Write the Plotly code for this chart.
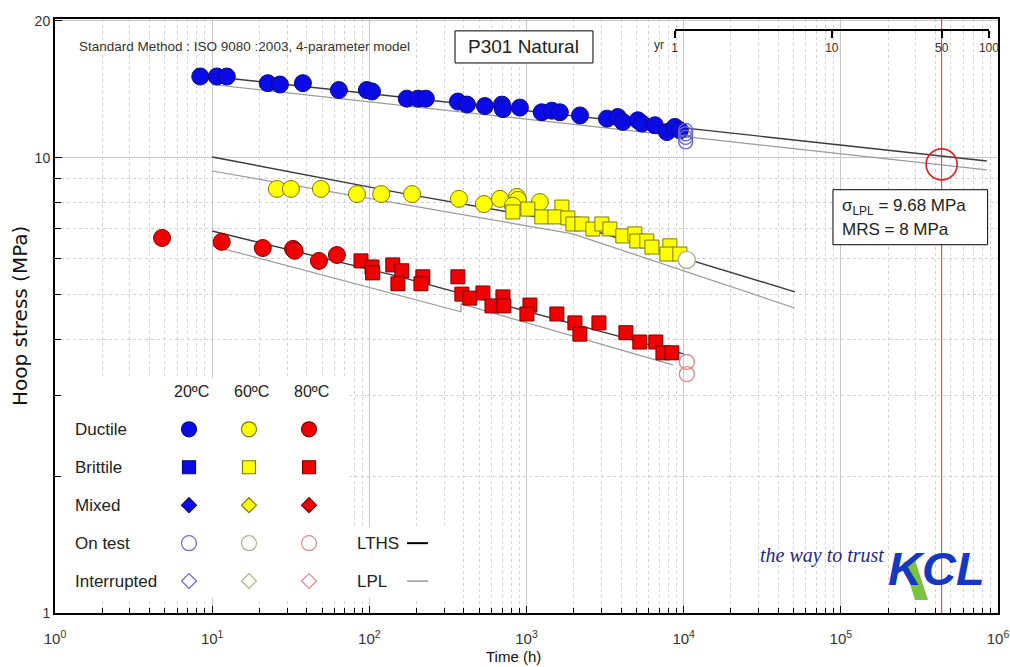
import math
import plotly.graph_objects as go

# ---------------- data ----------------
# 20 degC
blue_ductile_t = [8.4, 10.7, 12.4, 22.6, 27.0, 37.8, 64, 96.5, 104, 173, 204, 229, 366, 418, 544,
                  698, 708, 908, 1250, 1450, 1630, 2190, 3250, 3810, 4100, 5110, 5420, 6560, 7820, 8790, 9460]
blue_ductile_s = [15.1, 15.1, 15.1, 14.6, 14.5, 14.6, 14.1, 14.1, 14.0, 13.5, 13.5, 13.5, 13.3, 13.1, 13.0,
                  13.1, 12.8, 12.9, 12.6, 12.7, 12.6, 12.4, 12.2, 12.3, 12.0, 12.1, 11.9, 11.8, 11.4, 11.7, 11.5]
blue_ontest_t = [10300, 10300, 10300, 10300]
blue_ontest_s = [11.5, 11.3, 11.1, 10.85]

# 60 degC
yellow_ductile_t = [25.8, 31.7, 49.2, 83.4, 119, 187, 372, 536, 678, 869, 882, 819, 1217]
yellow_ductile_s = [8.55, 8.55, 8.55, 8.33, 8.33, 8.33, 8.13, 7.92, 8.13, 8.21, 8.09, 7.85, 8.00]
yellow_brittle_t = [819, 1020, 1680, 1253, 1517, 1833, 1973, 2250, 2644, 3017, 3393, 4102, 4890, 5035,
                    5830, 6280, 8170, 7820, 9460]
yellow_brittle_s = [7.61, 7.72, 7.80, 7.42, 7.42, 7.38, 7.16, 7.16, 6.98, 7.16, 6.98, 6.74, 6.81, 6.57,
                    6.57, 6.37, 6.41, 6.15, 6.15]
yellow_ontest_t = [10470]
yellow_ontest_s = [5.97]

# 80 degC
red_ductile_t = [4.8, 11.5, 21.0, 32.7, 33.5, 47.8, 62.2]
red_ductile_s = [6.67, 6.54, 6.34, 6.31, 6.25, 5.94, 6.12]
red_brittle_t = [88.5, 104, 105, 141, 161, 152, 219, 213, 366, 388, 436, 528, 603, 708, 718, 1052, 1006,
                 1560, 2032, 2187, 2890, 4290, 5260, 6650, 7380, 8410]
red_brittle_s = [5.94, 5.76, 5.59, 5.82, 5.65, 5.29, 5.48, 5.29, 5.48, 5.02, 4.92, 5.05, 4.73, 4.95, 4.73,
                 4.75, 4.54, 4.54, 4.34, 4.10, 4.34, 4.13, 3.94, 3.94, 3.73, 3.73]
red_ontest_t = [10470, 10470]
red_ontest_s = [3.56, 3.35]

# LTHS / LPL curves
blue_lths_t = [10, 849000]
blue_lths_s = [15.1, 9.85]
blue_lpl_t = [10, 849000]
blue_lpl_s = [14.5, 9.41]
yellow_lths_t = [10, 157, 1755, 50950]
yellow_lths_s = [10.05, 8.38, 7.23, 5.08]
yellow_lpl_t = [10, 1973, 50950]
yellow_lpl_s = [9.36, 6.81, 4.68]
red_lths_t = [10, 157, 10000]
red_lths_s = [6.91, 5.48, 3.71]
red_lpl_t = [10, 383, 383, 8540]
red_lpl_s = [6.41, 4.59, 4.78, 3.51]

HOURS_PER_YEAR = 8760
design_years = 50
design_t = design_years * HOURS_PER_YEAR
sigma_lpl = 9.68
mrs = 8

x_tick_vals = [1, 10, 100, 1000, 10000, 100000, 1000000]
x_tick_text = ["10<sup>0</sup>", "10<sup>1</sup>", "10<sup>2</sup>", "10<sup>3</sup>",
               "10<sup>4</sup>", "10<sup>5</sup>", "10<sup>6</sup>"]
x_minor_vals = [m * 10 ** k for k in range(6) for m in range(2, 10)]
y_tick_vals = [1, 10, 20]
y_tick_text = ["1", "10", "20"]
y_minor_vals = [2, 3, 4, 5, 6, 7, 8, 9]
yr_tick_vals = [1, 10, 50, 100]

legend_rows = ["Ductile", "Brittile", "Mixed", "On test", "Interrupted"]
legend_cols = ["20ºC", "60ºC", "80ºC"]

# ---------------- styles ----------------
FONT = "Liberation Sans"
BLUE, BLUE_E = "#0b0be8", "#0a0a7a"
YEL, YEL_E = "#ffff00", "#7a7a00"
RED, RED_E = "#f20000", "#780000"
OPEN = ["#6a6ac8", "#b0b08a", "#e08a8a"]
LTHS_C = "#3a3a3a"
LPL_C = "#9a9a9a"

fig = go.Figure()


def line(t, s, color, width=1.3):
    fig.add_trace(go.Scatter(x=t, y=s, mode="lines", line=dict(color=color, width=width),
                             hoverinfo="skip", showlegend=False))


def pts(t, s, symbol, size, color, edge, lw=1.0):
    fig.add_trace(go.Scatter(x=t, y=s, mode="markers",
                             marker=dict(symbol=symbol, size=size, color=color,
                                         line=dict(color=edge, width=lw)),
                             hoverinfo="skip", showlegend=False))


# design-life vertical line
fig.add_trace(go.Scatter(x=[design_t, design_t], y=[1, 20.2], mode="lines",
                         line=dict(color="#d03a3a", width=1), hoverinfo="skip", showlegend=False))

line(blue_lpl_t, blue_lpl_s, LPL_C, 1.2)
line(yellow_lpl_t, yellow_lpl_s, LPL_C, 1.2)
line(red_lpl_t, red_lpl_s, LPL_C, 1.2)
line(blue_lths_t, blue_lths_s, LTHS_C, 1.4)
line(yellow_lths_t, yellow_lths_s, LTHS_C, 1.4)
line(red_lths_t, red_lths_s, LTHS_C, 1.4)

pts(blue_ductile_t, blue_ductile_s, "circle", 17, BLUE, BLUE_E)
pts(blue_ontest_t, blue_ontest_s, "circle-open", 14, OPEN[0], OPEN[0], 1.4)
pts(yellow_ductile_t, yellow_ductile_s, "circle", 17, YEL, YEL_E)
pts(yellow_brittle_t, yellow_brittle_s, "square", 14, YEL, YEL_E)
pts(yellow_ontest_t, yellow_ontest_s, "circle", 17, "white", OPEN[1], 1.4)
pts(red_ductile_t, red_ductile_s, "circle", 17, RED, RED_E)
pts(red_brittle_t, red_brittle_s, "square", 14, RED, RED_E)
pts(red_ontest_t, red_ontest_s, "circle-open", 15, OPEN[2], OPEN[2], 1.4)

# design point circle
pts([design_t], [sigma_lpl], "circle-open", 31, "#dd2020", "#dd2020", 1.6)

# invisible anchor trace for the year axis
fig.add_trace(go.Scatter(x=[1, 100], y=[0.5, 0.5], xaxis="x2", yaxis="y4", mode="markers",
                         marker=dict(opacity=0), hoverinfo="skip", showlegend=False))

# ---------------- custom legend (overlay axes x3/y3, 0..1 = plot area) ----------------
col_x = [0.1421, 0.2057, 0.2694]
row_y = [0.3092, 0.2454, 0.1815, 0.1176, 0.0538]
fills = [(BLUE, BLUE_E), (YEL, YEL_E), (RED, RED_E)]
for ci, (fc, ec) in enumerate(fills):
    spec = [("circle", 15, fc, ec), ("square", 13, fc, ec), ("diamond", 11.5, fc, ec),
            ("circle-open", 15, OPEN[ci], OPEN[ci]), ("diamond-open", 11.5, OPEN[ci], OPEN[ci])]
    for ri, (sym, sz, c, e) in enumerate(spec):
        fig.add_trace(go.Scatter(x=[col_x[ci]], y=[row_y[ri]], xaxis="x3", yaxis="y3", mode="markers",
                                 marker=dict(symbol=sym, size=sz, color=c, line=dict(color=e, width=1.2)),
                                 hoverinfo="skip", showlegend=False))
fig.add_trace(go.Scatter(x=[0.3733, 0.3955], y=[row_y[3], row_y[3]], xaxis="x3", yaxis="y3", mode="lines",
                         line=dict(color="black", width=2), hoverinfo="skip", showlegend=False))
fig.add_trace(go.Scatter(x=[0.3733, 0.3955], y=[row_y[4], row_y[4]], xaxis="x3", yaxis="y3", mode="lines",
                         line=dict(color=LPL_C, width=1.5), hoverinfo="skip", showlegend=False))

shapes = [
    dict(type="rect", xref="x3", yref="y3", x0=0.0068, x1=0.313, y0=0.025, y1=0.395,
         fillcolor="white", line=dict(width=0), layer="between"),
    dict(type="rect", xref="x3", yref="y3", x0=0.313, x1=0.415, y0=0.025, y1=0.145,
         fillcolor="white", line=dict(width=0), layer="between"),
    dict(type="rect", xref="paper", yref="paper", x0=0.4242, x1=0.5705, y0=0.926, y1=0.980,
         fillcolor="white", line=dict(color="black", width=1), layer="above"),
    dict(type="rect", xref="paper", yref="paper", x0=0.825, x1=0.989, y0=0.620, y1=0.7126,
         fillcolor="white", line=dict(color="black", width=1), layer="above"),
    # green stroke of the logo
    dict(type="path", xref="paper", yref="paper",
         path="M 0.8993 0.0857 L 0.9120 0.0891 L 0.9258 0.0218 L 0.9120 0.0218 Z",
         fillcolor="#7cc242", line=dict(width=0), layer="above"),
]

ann = []


def txt(x, y, s, size, color="#222", xanchor="left", family=FONT, **kw):
    ann.append(dict(x=x, y=y, xref="paper", yref="paper", text=s, showarrow=False,
                    xanchor=xanchor, yanchor="middle", font=dict(size=size, color=color, family=family), **kw))


for ri, lab in enumerate(legend_rows):
    txt(0.0191, row_y[ri], lab, 17)
for ci, lab in enumerate(legend_cols):
    txt(col_x[ci] + 0.003, 0.3731, lab, 16, xanchor="center")
txt(0.318, row_y[3], "LTHS", 17)
txt(0.318, row_y[4], "LPL", 17)

txt(0.0233, 0.953, "Standard Method : ISO 9080 :2003, 4-parameter model", 13.5, color="#333")
txt(0.4973, 0.953, "P301 Natural", 19, xanchor="center")
txt(0.832, 0.683, "σ<sub>LPL</sub> = %.2f MPa" % sigma_lpl, 17)
txt(0.832, 0.645, "MRS = %d MPa" % mrs, 17)
txt(0.6405, 0.957, "yr", 12, color="#333", xanchor="center")

# axis titles
ann.append(dict(x=-0.0371, y=0.5, xref="paper", yref="paper", text="Hoop stress (MPa)", showarrow=False,
                textangle=-90, xanchor="center", yanchor="middle",
                font=dict(size=20, color="#111", family="DejaVu Sans")))
txt(0.4867, -0.074, "Time (h)", 15, color="#111", xanchor="center")

# logo
txt(0.813, 0.0975, "<i>the way to trust</i>", 20, color="#1f2a80", xanchor="center", family="Liberation Serif")
txt(0.935, 0.0756, "<b><i>KCL</i></b>", 47, color="#1638c0", xanchor="center")

fig.update_layout(
    width=1010, height=667,
    margin=dict(l=55, r=12, t=19, b=54),
    paper_bgcolor="white", plot_bgcolor="rgba(0,0,0,0)",
    showlegend=False,
    font=dict(family=FONT, color="#222"),
    shapes=shapes, annotations=ann,
    xaxis=dict(type="log", range=[0, 6], tickvals=x_tick_vals, ticktext=x_tick_text,
               ticks="inside", ticklen=7, tickcolor="black", tickwidth=1, ticklabelstandoff=11,
               showline=True, linewidth=2, linecolor="black", mirror=True, automargin=False,
               showgrid=True, gridcolor="#c8c8c8", gridwidth=1, zeroline=False,
               tickfont=dict(size=15, color="#333"),
               minor=dict(tickvals=x_minor_vals, ticks="inside", ticklen=5, tickcolor="black",
                          showgrid=True, gridcolor="#d2d2d2", griddash="dot", gridwidth=1)),
    yaxis=dict(type="log", range=[0, math.log10(20.2)], tickvals=y_tick_vals, ticktext=y_tick_text,
               ticks="inside", ticklen=7, tickcolor="black", automargin=False,
               showline=True, linewidth=2, linecolor="black", mirror=True,
               showgrid=True, gridcolor="#c8c8c8", zeroline=False,
               tickfont=dict(size=14, color="#333"),
               minor=dict(tickvals=y_minor_vals, ticks="inside", ticklen=6, tickcolor="black",
                          showgrid=True, gridcolor="#d2d2d2", griddash="dot", gridwidth=1)),
    xaxis2=dict(type="log", range=[0, 2],
                domain=[math.log10(HOURS_PER_YEAR) / 6, math.log10(100 * HOURS_PER_YEAR) / 6],
                anchor="free", position=0.9815, side="bottom", automargin=False,
                tickvals=yr_tick_vals, ticktext=[str(v) for v in yr_tick_vals],
                ticks="outside", ticklen=7, tickwidth=1.5, tickcolor="black",
                showline=True, linewidth=2, linecolor="black", showgrid=False, zeroline=False,
                tickfont=dict(size=12, color="#333")),
    yaxis4=dict(domain=[0, 1], range=[0, 1], anchor="x2", visible=False),
    xaxis3=dict(domain=[0, 1], range=[0, 1], anchor="y3", visible=False),
    yaxis3=dict(domain=[0, 1], range=[0, 1], anchor="x3", visible=False),
)

fig.write_html("out.html", config={"displayModeBar": False},
               post_script="document.body.style.margin='0';")
